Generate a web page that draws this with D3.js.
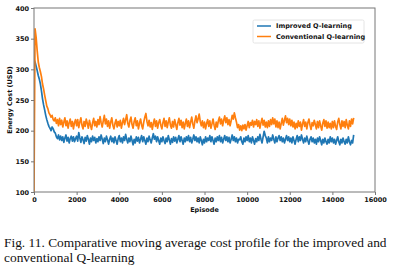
<!DOCTYPE html>
<html>
<head>
<meta charset="utf-8">
<script src="https://cdn.jsdelivr.net/npm/d3@7"></script>
<style>
  body { margin: 0; background: #ffffff; }
  svg { display: block; }
</style>
</head>
<body>
<div id="chart"></div>
<script>
// 数据：每 50 个 episode 一个点（0 ~ 15000）
const episodeStep = 50;

const improvedCost = [
    316, 312, 305, 298, 290, 284, 276, 265, 252, 242, 234, 225, 218, 212, 207, 204, 200, 206, 203, 198,
    196, 190, 187, 193, 185, 191, 184, 190, 181, 188, 193, 183, 189, 180, 187, 191, 183, 190, 182, 187,
    191, 183, 197, 188, 181, 190, 185, 179, 189, 183, 192, 186, 178, 188, 182, 191, 184, 189, 180, 187,
    182, 190, 184, 193, 186, 179, 188, 182, 191, 185, 178, 186, 191, 182, 188, 180, 190, 184, 178, 187,
    192, 182, 188, 180, 190, 184, 194, 186, 180, 188, 182, 191, 184, 177, 186, 180, 190, 183, 189, 180,
    186, 192, 182, 190, 184, 178, 188, 182, 191, 185, 180, 188, 195, 186, 191, 182, 190, 184, 178, 188,
    182, 190, 184, 179, 188, 182, 192, 185, 178, 187, 181, 190, 183, 189, 180, 186, 192, 182, 190, 184,
    178, 188, 182, 190, 184, 192, 182, 189, 180, 186, 193, 184, 190, 182, 188, 180, 190, 184, 177, 186,
    180, 190, 182, 188, 184, 192, 182, 190, 184, 178, 188, 182, 190, 184, 192, 182, 189, 180, 186, 192,
    184, 190, 182, 189, 180, 186, 193, 184, 190, 182, 188, 180, 186, 185, 190, 182, 178, 188, 182, 190,
    184, 192, 182, 188, 180, 190, 184, 178, 187, 182, 190, 184, 194, 186, 180, 190, 199, 192, 188, 180,
    190, 182, 188, 184, 193, 186, 180, 190, 182, 188, 192, 184, 190, 182, 188, 180, 186, 192, 184, 190,
    182, 188, 180, 190, 184, 178, 186, 192, 182, 190, 184, 193, 186, 180, 188, 182, 191, 184, 178, 186,
    190, 182, 188, 180, 186, 178, 188, 182, 190, 184, 177, 186, 180, 188, 182, 178, 186, 180, 190, 182,
    188, 180, 186, 178, 184, 190, 182, 177, 186, 180, 188, 182, 178, 186, 180, 190, 182, 177, 184, 180,
    193
];

const conventionalCost = [
    100, 366, 352, 330, 312, 303, 296, 288, 276, 268, 258, 249, 240, 236, 229, 226, 222, 225, 218, 216,
    221, 212, 218, 208, 220, 210, 217, 206, 214, 221, 208, 216, 204, 213, 219, 207, 215, 203, 213, 218,
    208, 218, 205, 214, 221, 209, 203, 215, 207, 219, 212, 204, 217, 209, 202, 213, 220, 208, 215, 206,
    218, 210, 223, 213, 206, 216, 225, 211, 219, 207, 216, 204, 214, 221, 209, 203, 212, 218, 206, 215,
    208, 217, 204, 213, 220, 210, 218, 226, 212, 206, 216, 222, 210, 204, 215, 221, 208, 216, 203, 212,
    219, 209, 203, 214, 222, 228, 215, 208, 217, 206, 213, 202, 212, 219, 207, 216, 204, 213, 218, 209,
    203, 213, 220, 207, 216, 205, 214, 221, 209, 204, 215, 206, 218, 210, 202, 213, 220, 209, 217, 205,
    214, 203, 212, 219, 207, 216, 205, 214, 222, 211, 204, 216, 224, 213, 219, 227, 215, 208, 216, 205,
    214, 203, 212, 218, 207, 216, 204, 211, 219, 209, 202, 214, 206, 216, 222, 211, 219, 208, 217, 224,
    213, 221, 210, 218, 208, 216, 225, 219, 229, 221, 214, 205, 210, 201, 208, 200, 209, 203, 210, 201,
    208, 215, 205, 213, 209, 217, 206, 215, 210, 218, 207, 216, 204, 213, 220, 209, 217, 206, 214, 205,
    216, 207, 218, 210, 221, 211, 219, 206, 216, 205, 214, 203, 212, 220, 209, 217, 224, 213, 220, 210,
    219, 208, 217, 206, 214, 203, 212, 205, 216, 207, 214, 201, 211, 218, 207, 214, 203, 213, 219, 209,
    202, 213, 208, 217, 210, 203, 215, 205, 216, 208, 201, 212, 218, 207, 216, 204, 214, 205, 212, 203,
    215, 205, 216, 207, 202, 214, 220, 210, 203, 216, 207, 215, 205, 218, 209, 203, 216, 207, 219, 211,
    221
];

const seriesNames = ['Improved Q-learning', 'Conventional Q-learning'];
const seriesColors = ['#1f77b4', '#ff7f0e'];
const xTicks = [0, 2000, 4000, 6000, 8000, 10000, 12000, 14000, 16000];
const yTicks = [100, 150, 200, 250, 300, 350, 400];
const captionLines = [
    'Fig. 11. Comparative moving average cost profile for the improved and',
    'conventional Q-learning'
];

const width = 398, height = 268;
const plot = {left: 34, right: 375, top: 8, bottom: 192};

const svg = d3.select('#chart')
    .append('svg')
    .attr('width', width)
    .attr('height', height)
    .style('background', '#ffffff');

// 比例尺
const x = d3.scaleLinear().domain([0, 16000]).range([plot.left, plot.right]);
const y = d3.scaleLinear().domain([100, 400]).range([plot.bottom, plot.top]);

svg.append('clipPath')
    .attr('id', 'plotClip')
    .append('rect')
    .attr('x', plot.left)
    .attr('y', plot.top)
    .attr('width', plot.right - plot.left)
    .attr('height', plot.bottom - plot.top);

// 曲线
const line = d3.line()
    .x((d, i) => x(i * episodeStep))
    .y(d => y(d));

const linesG = svg.append('g').attr('clip-path', 'url(#plotClip)');
[improvedCost, conventionalCost].forEach((data, k) => {
    linesG.append('path')
        .datum(data)
        .attr('d', line)
        .attr('fill', 'none')
        .attr('stroke', seriesColors[k])
        .attr('stroke-width', 1.7)
        .attr('stroke-linejoin', 'round');
});

// 坐标轴
const tickFont = 'DejaVu Sans';
const xAxis = svg.append('g')
    .attr('transform', `translate(0,${plot.bottom})`)
    .call(d3.axisBottom(x).tickValues(xTicks).tickSize(3).tickPadding(2).tickFormat(d3.format('d')));
const yAxis = svg.append('g')
    .attr('transform', `translate(${plot.left},0)`)
    .call(d3.axisLeft(y).tickValues(yTicks).tickSize(3).tickPadding(2).tickFormat(d3.format('d')));

[xAxis, yAxis].forEach(ax => {
    ax.select('.domain').remove();
    ax.selectAll('line').attr('stroke', '#555555').attr('stroke-width', 0.8);
    ax.selectAll('text')
        .attr('fill', '#111111')
        .style('font-family', tickFont)
        .style('font-size', '6.5px')
        .style('font-weight', 'bold');
});

// 边框
svg.append('rect')
    .attr('x', plot.left)
    .attr('y', plot.top)
    .attr('width', plot.right - plot.left)
    .attr('height', plot.bottom - plot.top)
    .attr('fill', 'none')
    .attr('stroke', '#777777')
    .attr('stroke-width', 1);

// 轴标题
svg.append('text')
    .attr('x', (plot.left + plot.right) / 2)
    .attr('y', 212)
    .attr('text-anchor', 'middle')
    .style('font-family', tickFont)
    .style('font-size', '6.5px')
    .style('font-weight', 'bold')
    .attr('fill', '#111111')
    .text('Episode');

svg.append('text')
    .attr('transform', `translate(12,${(plot.top + plot.bottom) / 2}) rotate(-90)`)
    .attr('text-anchor', 'middle')
    .style('font-family', tickFont)
    .style('font-size', '6.5px')
    .style('font-weight', 'bold')
    .attr('fill', '#111111')
    .text('Energy Cost (USD)');

// 图例
const legend = svg.append('g').attr('transform', 'translate(253,20)');
legend.append('rect')
    .attr('width', 111)
    .attr('height', 23)
    .attr('rx', 1.5)
    .attr('fill', '#ffffff')
    .attr('stroke', '#dddddd')
    .attr('stroke-width', 0.8);
seriesNames.forEach((name, i) => {
    const row = legend.append('g').attr('transform', `translate(0,${6 + i * 10.5})`);
    row.append('line')
        .attr('x1', 4).attr('x2', 18)
        .attr('stroke', seriesColors[i])
        .attr('stroke-width', 1.5);
    row.append('text')
        .attr('x', 23)
        .attr('dy', '0.35em')
        .style('font-family', tickFont)
        .style('font-size', '6.5px')
        .style('font-weight', 'bold')
        .attr('fill', '#111111')
        .text(name);
});

// 图注
svg.append('g')
    .selectAll('text')
    .data(captionLines)
    .enter()
    .append('text')
    .attr('x', 4)
    .attr('y', (d, i) => 246.5 + i * 15.2)
    .style('font-family', 'Liberation Serif')
    .style('font-size', '13.4px')
    .attr('fill', '#111111')
    .text(d => d);
</script>
</body>
</html>
